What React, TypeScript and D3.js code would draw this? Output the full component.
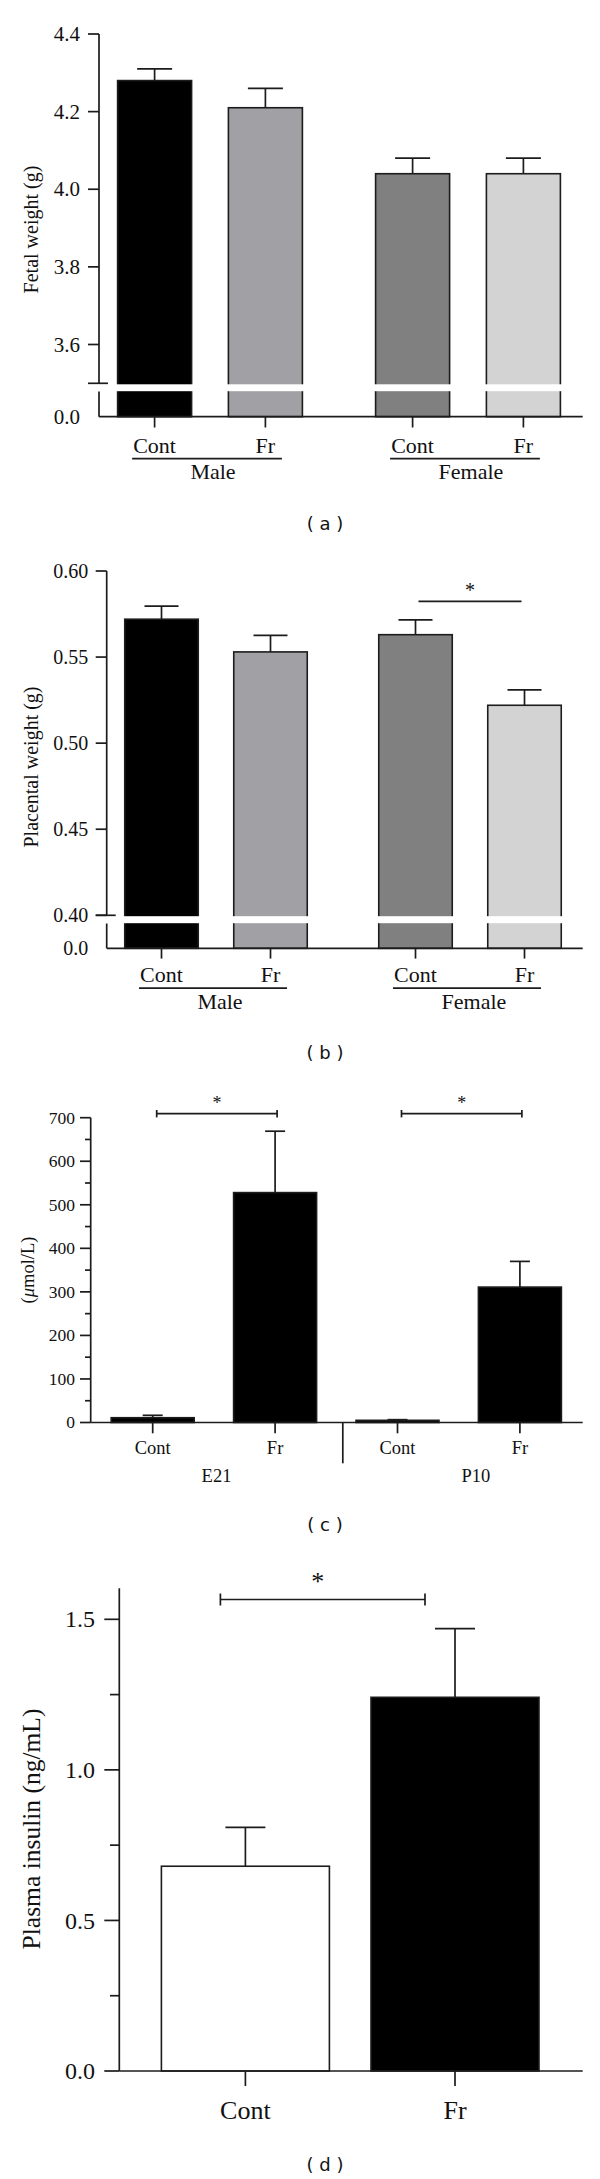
import React from 'react';
import * as d3 from 'd3';

// ---------- data ----------
const conditions = ['Cont', 'Fr'];
const sexGroups = ['Male', 'Female'];
const ageGroups = ['E21', 'P10'];

const fetalWeight = [4.28, 4.21, 4.04, 4.04];
const fetalWeightSem = [0.03, 0.05, 0.04, 0.04];
const fetalTicks = [3.6, 3.8, 4.0, 4.2, 4.4];

const placentalWeight = [0.572, 0.553, 0.563, 0.522];
const placentalWeightSem = [0.0076, 0.0096, 0.0086, 0.009];
const placentalTicks = [0.4, 0.45, 0.5, 0.55, 0.6];

const fructose = [11, 528, 5, 311];
const fructoseSem = [5.5, 141, 1.5, 59];
const fructoseTicks = [0, 100, 200, 300, 400, 500, 600, 700];
const fructoseMinorTicks = [50, 150, 250, 350, 450, 550, 650];

const insulin = [0.68, 1.241];
const insulinSem = [0.129, 0.228];
const insulinTicks = [0, 0.5, 1.0, 1.5];
const insulinMinorTicks = [0.25, 0.75, 1.25];

const greyFills = ['#000000', '#a1a1a5', '#808080', '#d3d3d3'];
const insulinFills = ['#ffffff', '#000000'];

// ---------- style ----------
const SERIF = '"Liberation Serif", "Times New Roman", serif';
const SANS = '"DejaVu Sans", Verdana, sans-serif';
const INK = '#1c1c1c';
const AXW = 1.7;
const CAP_FS = 18;

function makeX(groups: string[], conds: string[], range: [number, number], innerStep: number, bw: number) {
  const outer = d3.scaleBand<string>().domain(groups).range(range).paddingInner(0).paddingOuter(0);
  const step = outer.bandwidth();
  const pad = 1 - bw / innerStep;
  const inner = d3
    .scaleBand<string>()
    .domain(conds)
    .range([step / 2 - innerStep, step / 2 + innerStep])
    .paddingInner(pad)
    .paddingOuter(pad / 2);
  const left = (g: string, c: string) => (outer(g) as number) + (inner(c) as number);
  const center = (g: string, c: string) => left(g, c) + inner.bandwidth() / 2;
  return { outer, inner, left, center, bw: inner.bandwidth() };
}

type BarItem = { g: string; c: string; v: number; e: number; fill: string };

function items(groups: string[], conds: string[], vals: number[], sems: number[], fills: string[]): BarItem[] {
  const out: BarItem[] = [];
  groups.forEach((g, gi) =>
    conds.forEach((c, ci) => {
      const i = gi * conds.length + ci;
      out.push({ g, c, v: vals[i], e: sems[i], fill: fills[i] });
    })
  );
  return out;
}

function BarsAndErrors({ data, x, y, baseY, capW }: any) {
  return (
    <g>
      {data.map((d: BarItem, i: number) => {
        const cx = x.center(d.g, d.c);
        const top = y(d.v);
        const et = y(d.v + d.e);
        return (
          <g key={i}>
            <rect x={x.left(d.g, d.c)} y={top} width={x.bw} height={baseY - top} fill={d.fill} stroke={INK} strokeWidth={1.6} />
            <line x1={cx} x2={cx} y1={top} y2={et} stroke={INK} strokeWidth={AXW} />
            <line x1={cx - capW / 2} x2={cx + capW / 2} y1={et} y2={et} stroke={INK} strokeWidth={AXW} />
          </g>
        );
      })}
    </g>
  );
}

// ---------- Panel (a) ----------
function PanelA() {
  const axisX = 99;
  const baseY = 416.7;
  const y = d3.scaleLinear().domain([3.5, 4.4]).range([383.3, 34]);
  const x = makeX(sexGroups, conditions, [81, 597], 110.8, 74);
  const data = items(sexGroups, conditions, fetalWeight, fetalWeightSem, greyFills);
  const fs = 21;
  return (
    <g>
      <BarsAndErrors data={data} x={x} y={y} baseY={baseY} capW={35} />
      <rect x={axisX + 4} y={384.3} width={490} height={6.9} fill="#fff" />
      <line x1={axisX} x2={axisX} y1={34} y2={383.3} stroke={INK} strokeWidth={AXW} />
      <line x1={axisX - 11} x2={axisX + 9} y1={383.3} y2={383.3} stroke={INK} strokeWidth={AXW} />
      <line x1={axisX} x2={axisX} y1={391.5} y2={baseY} stroke={INK} strokeWidth={AXW} />
      <line x1={axisX} x2={582.7} y1={baseY} y2={baseY} stroke={INK} strokeWidth={AXW} />
      {fetalTicks.map((t) => (
        <g key={t}>
          <line x1={axisX - 11} x2={axisX} y1={y(t)} y2={y(t)} stroke={INK} strokeWidth={AXW} />
          <text x={80} y={y(t) + 0.34 * fs} textAnchor="end" fontSize={fs} fontFamily={SERIF} fill="#111">
            {t.toFixed(1)}
          </text>
        </g>
      ))}
      <text x={80} y={baseY + 0.34 * fs} textAnchor="end" fontSize={fs} fontFamily={SERIF} fill="#111">
        0.0
      </text>
      {data.map((d, i) => {
        const cx = x.center(d.g, d.c);
        return (
          <g key={i}>
            <line x1={cx} x2={cx} y1={baseY} y2={baseY + 10.8} stroke={INK} strokeWidth={AXW} />
            <text x={cx} y={453.3} textAnchor="middle" fontSize={22} fontFamily={SERIF} fill="#111">
              {d.c}
            </text>
          </g>
        );
      })}
      {sexGroups.map((g) => (
        <g key={g}>
          <line x1={x.center(g, 'Cont') - 22.5} x2={x.center(g, 'Fr') + 16.5} y1={458.6} y2={458.6} stroke={INK} strokeWidth={AXW} />
          <text x={(x.outer(g) as number) + x.outer.bandwidth() / 2 + 3} y={479} textAnchor="middle" fontSize={22} fontFamily={SERIF} fill="#111">
            {g}
          </text>
        </g>
      ))}
      <text transform={`translate(38,229.5) rotate(-90)`} textAnchor="middle" fontSize={20} fontFamily={SERIF} fill="#111">
        Fetal weight (g)
      </text>
      <text x={325} y={529.5} textAnchor="middle" fontSize={CAP_FS} fontFamily={SANS} fill="#111">
        ( a )
      </text>
    </g>
  );
}

// ---------- Panel (b) ----------
function PanelB() {
  const axisX = 106.7;
  const baseY = 948.3;
  const y = d3.scaleLinear().domain([0.4, 0.6]).range([915.3, 571]);
  const x = makeX(sexGroups, conditions, [89, 597], 109, 73.5);
  const data = items(sexGroups, conditions, placentalWeight, placentalWeightSem, greyFills);
  const fs = 20;
  const sigL = x.center('Female', 'Cont') + 3;
  const sigR = x.center('Female', 'Fr') - 3;
  return (
    <g>
      <BarsAndErrors data={data} x={x} y={y} baseY={baseY} capW={34} />
      <rect x={axisX + 10} y={916.2} width={480} height={7} fill="#fff" />
      <line x1={axisX} x2={axisX} y1={571} y2={915.3} stroke={INK} strokeWidth={AXW} />
      <line x1={axisX - 11} x2={axisX + 9} y1={915.3} y2={915.3} stroke={INK} strokeWidth={AXW} />
      <line x1={axisX} x2={axisX} y1={923.5} y2={baseY} stroke={INK} strokeWidth={AXW} />
      <line x1={axisX} x2={582.7} y1={baseY} y2={baseY} stroke={INK} strokeWidth={AXW} />
      {placentalTicks.map((t) => (
        <g key={t}>
          <line x1={axisX - 11} x2={axisX} y1={y(t)} y2={y(t)} stroke={INK} strokeWidth={AXW} />
          <text x={88.3} y={y(t) + 0.34 * fs} textAnchor="end" fontSize={fs} fontFamily={SERIF} fill="#111">
            {t.toFixed(2)}
          </text>
        </g>
      ))}
      <text x={88.3} y={baseY + 0.34 * fs} textAnchor="end" fontSize={fs} fontFamily={SERIF} fill="#111">
        0.0
      </text>
      {data.map((d, i) => {
        const cx = x.center(d.g, d.c);
        return (
          <g key={i}>
            <line x1={cx} x2={cx} y1={baseY} y2={baseY + 10.3} stroke={INK} strokeWidth={AXW} />
            <text x={cx} y={982.4} textAnchor="middle" fontSize={22} fontFamily={SERIF} fill="#111">
              {d.c}
            </text>
          </g>
        );
      })}
      {sexGroups.map((g) => (
        <g key={g}>
          <line x1={x.center(g, 'Cont') - 22.5} x2={x.center(g, 'Fr') + 16.5} y1={988.2} y2={988.2} stroke={INK} strokeWidth={AXW} />
          <text x={(x.outer(g) as number) + x.outer.bandwidth() / 2 + 4} y={1009.3} textAnchor="middle" fontSize={22} fontFamily={SERIF} fill="#111">
            {g}
          </text>
        </g>
      ))}
      <line x1={sigL} x2={sigR} y1={601.4} y2={601.4} stroke={INK} strokeWidth={AXW} />
      <text x={(sigL + sigR) / 2} y={596.5} textAnchor="middle" fontSize={20} fontFamily={SERIF} fill="#111">
        *
      </text>
      <text transform={`translate(38,767) rotate(-90)`} textAnchor="middle" fontSize={20} fontFamily={SERIF} fill="#111">
        Placental weight (g)
      </text>
      <text x={325} y={1058.5} textAnchor="middle" fontSize={CAP_FS} fontFamily={SANS} fill="#111">
        ( b )
      </text>
    </g>
  );
}

// ---------- Panel (c) ----------
function PanelC() {
  const axisX = 90.7;
  const baseY = 1422.5;
  const y = d3.scaleLinear().domain([0, 700]).range([baseY, 1117.7]);
  const x = makeX(ageGroups, conditions, [91.5, 581.1], 122.4, 83);
  const data = items(ageGroups, conditions, fructose, fructoseSem, ['#000', '#000', '#000', '#000']);
  const fs = 17.5;
  const dividerX = (x.outer('P10') as number) + 6.5;
  const groupLabelX = [216.5, 475.8];
  const sigY = 1113.7;
  return (
    <g>
      <BarsAndErrors data={data} x={x} y={y} baseY={baseY} capW={20} />
      <line x1={axisX} x2={axisX} y1={1117.7} y2={baseY} stroke={INK} strokeWidth={AXW} />
      <line x1={axisX} x2={582.7} y1={baseY} y2={baseY} stroke={INK} strokeWidth={AXW} />
      {fructoseTicks.map((t) => (
        <g key={t}>
          <line x1={axisX - 10.7} x2={axisX} y1={y(t)} y2={y(t)} stroke={INK} strokeWidth={AXW} />
          <text x={75} y={y(t) + 0.34 * fs} textAnchor="end" fontSize={fs} fontFamily={SERIF} fill="#111">
            {t}
          </text>
        </g>
      ))}
      {fructoseMinorTicks.map((t) => (
        <line key={t} x1={axisX - 5.7} x2={axisX} y1={y(t)} y2={y(t)} stroke={INK} strokeWidth={AXW} />
      ))}
      {data.map((d, i) => {
        const cx = x.center(d.g, d.c);
        return (
          <g key={i}>
            <line x1={cx} x2={cx} y1={baseY} y2={1433.3} stroke={INK} strokeWidth={AXW} />
            <text x={cx} y={1454} textAnchor="middle" fontSize={18.5} fontFamily={SERIF} fill="#111">
              {d.c}
            </text>
          </g>
        );
      })}
      <line x1={dividerX} x2={dividerX} y1={baseY} y2={1463.3} stroke={INK} strokeWidth={AXW} />
      {ageGroups.map((g, gi) => {
        const l = x.center(g, 'Cont') + 4;
        const r = x.center(g, 'Fr') + 2;
        return (
          <g key={g}>
            <text x={groupLabelX[gi]} y={1482.3} textAnchor="middle" fontSize={18.5} fontFamily={SERIF} fill="#111">
              {g}
            </text>
            <line x1={l} x2={r} y1={sigY} y2={sigY} stroke={INK} strokeWidth={AXW} />
            <line x1={l} x2={l} y1={sigY - 3.7} y2={sigY + 3.7} stroke={INK} strokeWidth={AXW} />
            <line x1={r} x2={r} y1={sigY - 3.7} y2={sigY + 3.7} stroke={INK} strokeWidth={AXW} />
            <text x={(l + r) / 2} y={1108.5} textAnchor="middle" fontSize={18} fontFamily={SERIF} fill="#111">
              *
            </text>
          </g>
        );
      })}
      <text transform={`translate(34,1270) rotate(-90)`} textAnchor="middle" fontSize={18.5} fontFamily={SERIF} fill="#111">
        (<tspan fontStyle="italic">μ</tspan>mol/L)
      </text>
      <text x={325} y={1530.5} textAnchor="middle" fontSize={CAP_FS} fontFamily={SANS} fill="#111">
        ( c )
      </text>
    </g>
  );
}

// ---------- Panel (d) ----------
function PanelD() {
  const axisX = 119.3;
  const baseY = 2071;
  const y = d3.scaleLinear().domain([0, 1.6]).range([baseY, 1589.2]);
  const x = makeX(['all'], conditions, [119.3, 581.1], 209.6, 168);
  const data = items(['all'], conditions, insulin, insulinSem, insulinFills);
  const fs = 24;
  const sigL = x.center('all', 'Cont') - 25;
  const sigR = x.center('all', 'Fr') - 30;
  const sigY = 1599.5;
  return (
    <g>
      <BarsAndErrors data={data} x={x} y={y} baseY={baseY} capW={40} />
      <line x1={axisX} x2={axisX} y1={1588.3} y2={baseY} stroke={INK} strokeWidth={AXW} />
      <line x1={axisX} x2={582.7} y1={baseY} y2={baseY} stroke={INK} strokeWidth={AXW} />
      {insulinTicks.map((t) => (
        <g key={t}>
          <line x1={axisX - 15} x2={axisX} y1={y(t)} y2={y(t)} stroke={INK} strokeWidth={AXW} />
          <text x={95} y={y(t) + 0.34 * fs} textAnchor="end" fontSize={fs} fontFamily={SERIF} fill="#111">
            {t.toFixed(1)}
          </text>
        </g>
      ))}
      {insulinMinorTicks.map((t) => (
        <line key={t} x1={axisX - 9.3} x2={axisX} y1={y(t)} y2={y(t)} stroke={INK} strokeWidth={AXW} />
      ))}
      {data.map((d, i) => {
        const cx = x.center(d.g, d.c);
        return (
          <g key={i}>
            <line x1={cx} x2={cx} y1={baseY} y2={2086} stroke={INK} strokeWidth={AXW} />
            <text x={cx} y={2119.4} textAnchor="middle" fontSize={26} fontFamily={SERIF} fill="#111">
              {d.c}
            </text>
          </g>
        );
      })}
      <line x1={sigL} x2={sigR} y1={sigY} y2={sigY} stroke={INK} strokeWidth={AXW} />
      <line x1={sigL} x2={sigL} y1={sigY - 6} y2={sigY + 6} stroke={INK} strokeWidth={AXW} />
      <line x1={sigR} x2={sigR} y1={sigY - 6} y2={sigY + 6} stroke={INK} strokeWidth={AXW} />
      <text x={(sigL + sigR) / 2 - 5} y={1589.5} textAnchor="middle" fontSize={26} fontFamily={SERIF} fill="#111">
        *
      </text>
      <text transform={`translate(40,1829) rotate(-90)`} textAnchor="middle" fontSize={25.5} fontFamily={SERIF} fill="#111">
        Plasma insulin (ng/mL)
      </text>
      <text x={325} y={2170.5} textAnchor="middle" fontSize={CAP_FS} fontFamily={SANS} fill="#111">
        ( d )
      </text>
    </g>
  );
}

export default function App() {
  return (
    <svg
      width={600}
      height={2179}
      viewBox="0 0 600 2179"
      style={{ position: 'absolute', left: 0, top: 0, background: '#fff' }}
    >
      <rect x={0} y={0} width={600} height={2179} fill="#fff" />
      <PanelA />
      <PanelB />
      <PanelC />
      <PanelD />
    </svg>
  );
}
